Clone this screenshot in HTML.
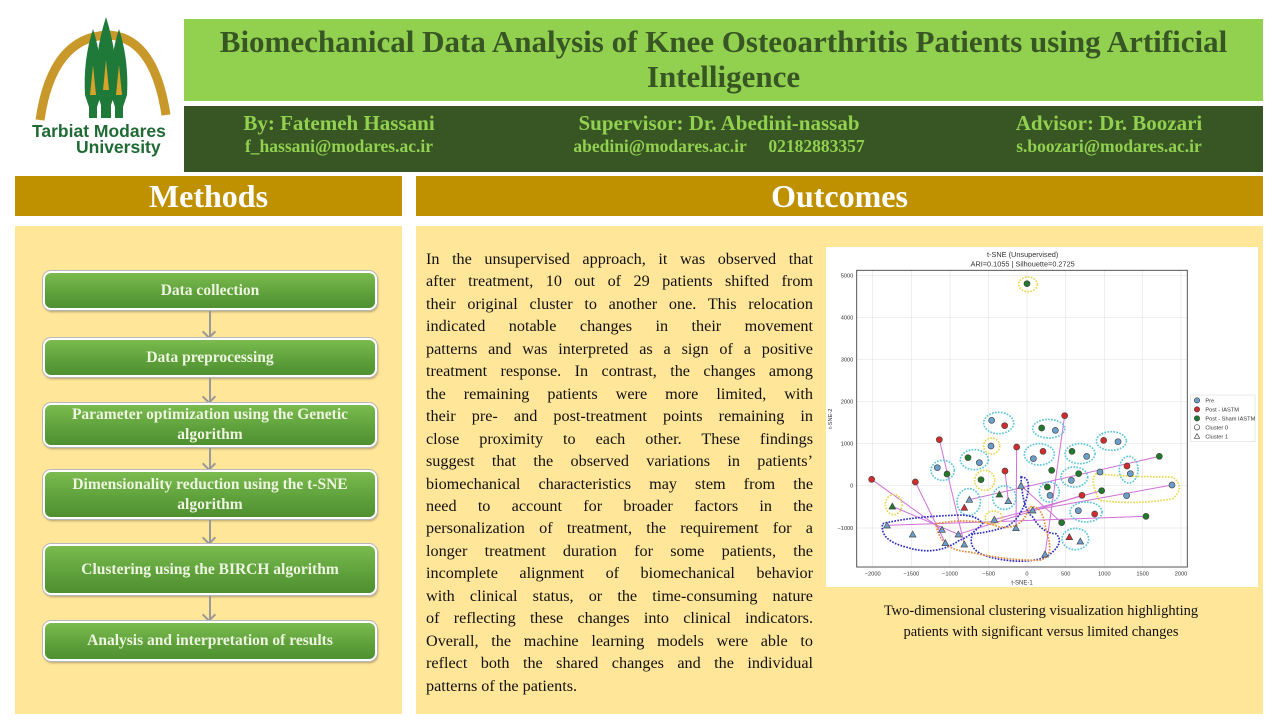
<!DOCTYPE html>
<html><head><meta charset="utf-8"><style>
*{margin:0;padding:0;box-sizing:border-box}
body{width:1280px;height:720px;background:#fff;position:relative;overflow:hidden;font-family:"Liberation Serif",serif}
.abs{position:absolute}
.title{left:184px;top:19px;width:1079px;height:82px;background:#92d050;color:#375623;font-weight:bold;font-size:31px;text-align:center;line-height:35px;padding-top:5px;white-space:nowrap}
.auth{left:184px;top:106px;width:1079px;height:66px;background:#375623;color:#92d050;font-weight:bold}
.auth div{position:absolute;text-align:center;white-space:nowrap}
.hdr{top:176px;height:40px;background:#bf9000;color:#fff;font-weight:bold;font-size:32px;text-align:center;line-height:40px}
.panel{top:226px;height:488px;background:#ffe699}
.box{left:43px;width:334px;background:linear-gradient(#7bbb4f,#5da03a 60%,#4f8f30);border:2px solid #fff;border-radius:8px;box-shadow:0 0 0 1px #b8b8b8,1px 2px 2px rgba(0,0,0,.3);color:#eef4e0;font-weight:bold;font-size:15.5px;text-align:center;display:flex;align-items:center;justify-content:center;line-height:20px;padding:0 14px}
.arr{left:209px;width:2px;background:#999}
.arr:after{content:"";position:absolute;left:-5px;bottom:0;width:8px;height:8px;border-right:2px solid #999;border-bottom:2px solid #999;transform:rotate(45deg);transform-origin:center;}
.txt{left:426px;top:248px;width:387px;font-size:16.2px;line-height:22.45px;color:#111}
.txt div{text-align:justify;text-align-last:justify;white-space:nowrap}
.txt div.l{text-align-last:left}
</style></head><body>
<!-- logo -->
<svg class="abs" style="left:30px;top:15px" width="145" height="145" viewBox="0 0 145 145">
<path d="M10 105 Q22 22 78 20 Q124 22 136 100" fill="none" stroke="#c8982a" stroke-width="9"/>
<g fill="#1f7a3a">
<path d="M76 2 Q88 40 86 75 L81 90 L81 103 L71 103 L71 90 L66 75 Q64 40 76 2Z"/>
<path d="M63 14 Q73 45 71 80 L67 92 L67 103 L59 103 L59 92 L55 80 Q53 45 63 14Z"/>
<path d="M89 14 Q99 45 97 80 L93 92 L93 103 L85 103 L85 92 L81 80 Q79 45 89 14Z"/>
</g>
<g fill="#d9a32a"><path d="M63 50 L66 80 L60 80Z"/><path d="M89 50 L92 80 L86 80Z"/><path d="M76 45 L79 75 L73 75Z"/></g>
<text x="2" y="122" font-family="Liberation Sans" font-weight="bold" font-size="17.5" fill="#1f6a35">Tarbiat Modares</text>
<text x="46" y="138" font-family="Liberation Sans" font-weight="bold" font-size="17.5" fill="#1f6a35">University</text>
</svg>
<div class="abs title">Biomechanical Data Analysis of Knee Osteoarthritis Patients using Artificial<br>Intelligence</div>
<div class="abs auth">
<div style="left:25px;width:260px;top:5px;font-size:21px">By: Fatemeh Hassani</div>
<div style="left:25px;width:260px;top:30px;font-size:17.5px">f_hassani@modares.ac.ir</div>
<div style="left:350px;width:370px;top:5px;font-size:21px">Supervisor: Dr. Abedini-nassab</div>
<div style="left:350px;width:370px;top:30px;font-size:17.5px">abedini@modares.ac.ir &nbsp;&nbsp;&nbsp;&nbsp;02182883357</div>
<div style="left:795px;width:260px;top:5px;font-size:21px">Advisor: Dr. Boozari</div>
<div style="left:795px;width:260px;top:30px;font-size:17.5px">s.boozari@modares.ac.ir</div>
</div>
<div class="abs hdr" style="left:15px;width:387px">Methods</div>
<div class="abs hdr" style="left:416px;width:847px">Outcomes</div>
<div class="abs panel" style="left:15px;width:387px"></div>
<div class="abs panel" style="left:416px;width:847px"></div>

<div class="abs box" style="top:271px;height:39px">Data collection</div>
<div class="abs arr" style="top:311px;height:26px"></div>
<div class="abs box" style="top:338px;height:39px">Data preprocessing</div>
<div class="abs arr" style="top:378px;height:24px"></div>
<div class="abs box" style="top:403px;height:44px">Parameter optimization using the Genetic algorithm</div>
<div class="abs arr" style="top:448px;height:21px"></div>
<div class="abs box" style="top:470px;height:49px">Dimensionality reduction using the t-SNE algorithm</div>
<div class="abs arr" style="top:520px;height:23px"></div>
<div class="abs box" style="top:544px;height:51px">Clustering using the BIRCH algorithm</div>
<div class="abs arr" style="top:596px;height:24px"></div>
<div class="abs box" style="top:621px;height:40px">Analysis and interpretation of results</div>

<div class="abs txt">
<div>In the unsupervised approach, it was observed that</div>
<div>after treatment, 10 out of 29 patients shifted from</div>
<div>their original cluster to another one. This relocation</div>
<div>indicated notable changes in their movement</div>
<div>patterns and was interpreted as a sign of a positive</div>
<div>treatment response. In contrast, the changes among</div>
<div>the remaining patients were more limited, with</div>
<div>their pre- and post-treatment points remaining in</div>
<div>close proximity to each other. These findings</div>
<div>suggest that the observed variations in patients’</div>
<div>biomechanical characteristics may stem from the</div>
<div>need to account for broader factors in the</div>
<div>personalization of treatment, the requirement for a</div>
<div>longer treatment duration for some patients, the</div>
<div>incomplete alignment of biomechanical behavior</div>
<div>with clinical status, or the time-consuming nature</div>
<div>of reflecting these changes into clinical indicators.</div>
<div>Overall, the machine learning models were able to</div>
<div>reflect both the shared changes and the individual</div>
<div class="l">patterns of the patients.</div>
</div>

<svg class="abs" style="left:826px;top:247px" width="432" height="340" viewBox="0 0 1296 1020">
<rect width="1296" height="1020" fill="#fff"/>
<g font-family="Liberation Sans" font-size="22" fill="#333" text-anchor="middle">
<text x="590" y="30">t-SNE (Unsupervised)</text>
<text x="590" y="58">ARI=0.1055 | Silhouette=0.2725</text>
<text x="588" y="1012" font-size="18">t-SNE-1</text>
</g>
<g stroke="#e6e6e6" stroke-width="2">
<line x1="140" y1="70" x2="140" y2="960"/><line x1="256" y1="70" x2="256" y2="960"/><line x1="372" y1="70" x2="372" y2="960"/><line x1="488" y1="70" x2="488" y2="960"/><line x1="603" y1="70" x2="603" y2="960"/><line x1="719" y1="70" x2="719" y2="960"/><line x1="835" y1="70" x2="835" y2="960"/><line x1="950" y1="70" x2="950" y2="960"/><line x1="1065" y1="70" x2="1065" y2="960"/>
<line x1="92" y1="85" x2="1084" y2="85"/><line x1="92" y1="211" x2="1084" y2="211"/><line x1="92" y1="337" x2="1084" y2="337"/><line x1="92" y1="463" x2="1084" y2="463"/><line x1="92" y1="590" x2="1084" y2="590"/><line x1="92" y1="716" x2="1084" y2="716"/><line x1="92" y1="843" x2="1084" y2="843"/>
</g>
<rect x="92" y="70" width="992" height="890" fill="none" stroke="#555" stroke-width="3"/>
<g font-family="Liberation Sans" font-size="17" fill="#333" text-anchor="end">
<text x="82" y="91">5000</text><text x="82" y="217">4000</text><text x="82" y="343">3000</text><text x="82" y="469">2000</text><text x="82" y="596">1000</text><text x="82" y="722">0</text><text x="82" y="849">−1000</text>
</g>
<g font-family="Liberation Sans" font-size="17" fill="#333" text-anchor="middle">
<text x="140" y="985">−2000</text><text x="256" y="985">−1500</text><text x="372" y="985">−1000</text><text x="488" y="985">−500</text><text x="603" y="985">0</text><text x="719" y="985">500</text><text x="835" y="985">1000</text><text x="950" y="985">1500</text><text x="1065" y="985">2000</text>
</g>
<text x="18" y="515" font-family="Liberation Sans" font-size="17" fill="#333" transform="rotate(-90 18 515)" text-anchor="middle">t-SNE-2</text>
<g stroke="#d070d8" stroke-width="3" fill="none">
<line x1="137" y1="697" x2="348" y2="848"/><line x1="268" y1="705" x2="358" y2="888"/><line x1="340" y1="578" x2="415" y2="892"/><line x1="572" y1="600" x2="570" y2="843"/><line x1="716" y1="506" x2="657" y2="922"/><line x1="1000" y1="628" x2="430" y2="758"/><line x1="960" y1="808" x2="183" y2="835"/><line x1="768" y1="745" x2="397" y2="862"/><line x1="199" y1="778" x2="397" y2="862"/><line x1="537" y1="672" x2="547" y2="762"/><line x1="827" y1="731" x2="505" y2="818"/><line x1="1038" y1="714" x2="620" y2="790"/><line x1="707" y1="827" x2="585" y2="716"/>
</g>
<g fill="none" stroke-width="5" stroke-dasharray="5 4">
<g stroke="#5bc6d8">
<ellipse cx="518" cy="528" rx="45" ry="32"/><ellipse cx="668" cy="545" rx="48" ry="28"/><ellipse cx="640" cy="622" rx="45" ry="32"/><ellipse cx="445" cy="638" rx="42" ry="30"/><ellipse cx="350" cy="670" rx="35" ry="30"/><ellipse cx="762" cy="620" rx="45" ry="30"/><ellipse cx="856" cy="582" rx="45" ry="28"/><ellipse cx="908" cy="668" rx="28" ry="40"/><ellipse cx="745" cy="690" rx="40" ry="30"/><ellipse cx="670" cy="735" rx="30" ry="30"/><ellipse cx="780" cy="795" rx="48" ry="30"/><ellipse cx="428" cy="765" rx="35" ry="40"/><ellipse cx="535" cy="752" rx="35" ry="35"/><ellipse cx="748" cy="876" rx="40" ry="32"/>
</g>
<g stroke="#e8d84a">
<ellipse cx="606" cy="112" rx="28" ry="22"/><ellipse cx="497" cy="597" rx="24" ry="24"/><ellipse cx="476" cy="700" rx="30" ry="30"/><ellipse cx="203" cy="773" rx="25" ry="30"/><ellipse cx="503" cy="812" rx="25" ry="20"/><path d="M810 680 Q900 690 1040 690 Q1080 720 1040 755 Q930 775 820 760 Q790 700 810 680Z"/>
</g>
<path stroke="#2a2ac0" d="M585 690 Q620 690 600 760 Q580 820 540 840 Q470 860 440 860 Q420 910 490 930 Q590 955 660 930 Q720 890 690 860 Q650 860 620 810 Q590 790 585 690Z M170 830 Q250 810 380 805 Q450 800 470 830 Q430 870 400 880 Q330 930 240 900 Q160 880 170 830Z"/>
<path stroke="#e88b3a" d="M330 830 Q440 810 520 840 Q590 850 610 780 Q650 770 660 850 Q690 930 640 940 Q540 940 430 915 Q340 910 330 830Z"/>
</g>
<g stroke="#444" stroke-width="2">
<g fill="#6a9fcc">
<circle cx="497" cy="520" r="9"/><circle cx="688" cy="550" r="9"/><circle cx="495" cy="597" r="9"/><circle cx="622" cy="635" r="9"/><circle cx="460" cy="647" r="9"/><circle cx="334" cy="662" r="9"/><circle cx="782" cy="628" r="9"/><circle cx="876" cy="584" r="9"/><circle cx="822" cy="675" r="9"/><circle cx="913" cy="680" r="9"/><circle cx="736" cy="700" r="9"/><circle cx="1038" cy="714" r="9"/><circle cx="902" cy="746" r="9"/><circle cx="672" cy="745" r="9"/><circle cx="757" cy="791" r="9"/>
<path d="M585 706l10 18h-20z M430 748l10 18h-20z M547 752l10 18h-20z M620 780l10 18h-20z M505 808l10 18h-20z M570 833l10 18h-20z M183 825l10 18h-20z M260 852l10 18h-20z M348 838l10 18h-20z M397 852l10 18h-20z M358 878l10 18h-20z M415 882l10 18h-20z M657 912l10 18h-20z M763 873l10 18h-20z"/>
</g>
<g fill="#d42a2a">
<circle cx="536" cy="536" r="9"/><circle cx="716" cy="506" r="9"/><circle cx="340" cy="578" r="9"/><circle cx="572" cy="600" r="9"/><circle cx="651" cy="613" r="9"/><circle cx="833" cy="580" r="9"/><circle cx="903" cy="657" r="9"/><circle cx="537" cy="672" r="9"/><circle cx="268" cy="705" r="9"/><circle cx="137" cy="697" r="9"/><circle cx="768" cy="745" r="9"/><circle cx="806" cy="801" r="9"/>
<path d="M415 772l10 18h-20z M730 860l10 18h-20z"/>
</g>
<g fill="#1f7a2a">
<circle cx="603" cy="110" r="9"/><circle cx="647" cy="543" r="9"/><circle cx="738" cy="613" r="9"/><circle cx="426" cy="632" r="9"/><circle cx="363" cy="681" r="9"/><circle cx="677" cy="670" r="9"/><circle cx="758" cy="680" r="9"/><circle cx="1000" cy="628" r="9"/><circle cx="465" cy="698" r="9"/><circle cx="664" cy="720" r="9"/><circle cx="827" cy="731" r="9"/><circle cx="960" cy="808" r="9"/><circle cx="707" cy="827" r="9"/>
<path d="M199 768l10 18h-20z M520 732l10 18h-20z"/>
</g>
</g>
<rect x="1094" y="444" width="193" height="140" fill="#fff" stroke="#ddd" stroke-width="2"/>
<g font-family="Liberation Sans" font-size="17" fill="#333">
<circle cx="1113" cy="460" r="8" fill="#6a9fcc" stroke="#444" stroke-width="2"/><text x="1138" y="466">Pre</text>
<circle cx="1113" cy="487" r="8" fill="#d42a2a" stroke="#444" stroke-width="2"/><text x="1138" y="493">Post - IASTM</text>
<circle cx="1113" cy="514" r="8" fill="#1f7a2a" stroke="#444" stroke-width="2"/><text x="1138" y="520">Post - Sham IASTM</text>
<circle cx="1113" cy="541" r="8" fill="#fff" stroke="#444" stroke-width="2"/><text x="1138" y="547">Cluster 0</text>
<path d="M1113 560l8 14h-16z" fill="#fff" stroke="#444" stroke-width="2"/><text x="1138" y="574">Cluster 1</text>
</g>
</svg>
<div class="abs" style="left:826px;top:601px;width:430px;text-align:center;font-size:14.5px;line-height:21px;color:#111">Two-dimensional clustering visualization highlighting<br>patients with significant versus limited changes</div>
</body></html>
